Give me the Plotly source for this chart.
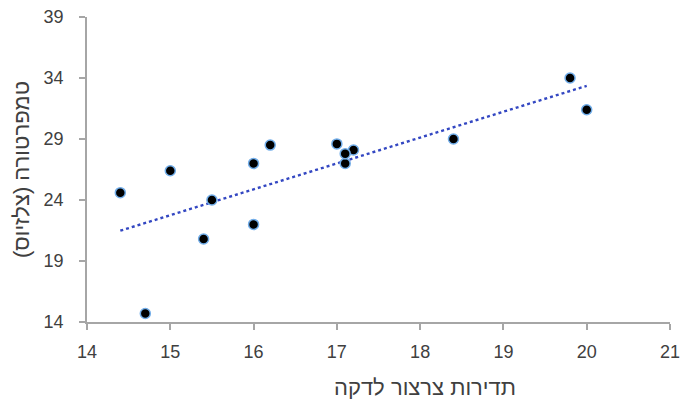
import numpy as np
import plotly.graph_objects as go

# chirps per minute vs temperature
chirp_rate = [20.0, 16.0, 19.8, 18.4, 17.1, 15.5, 14.7, 15.4, 16.2, 15.0, 17.2, 16.0, 17.0, 14.4, 17.1]
temperature_c = [31.4, 22.0, 34.0, 29.0, 27.0, 24.0, 14.7, 20.8, 28.5, 26.4, 28.1, 27.0, 28.6, 24.6, 27.8]

x_title = "תדירות צרצור לדקה"
y_title = "טמפרטורה (צלזיוס)"

# linear trend line across the data range
slope, intercept = np.polyfit(chirp_rate, temperature_c, 1)
trend_x = np.array([min(chirp_rate), max(chirp_rate)])
trend_y = slope * trend_x + intercept

fig = go.Figure()
fig.add_trace(go.Scatter(
    x=trend_x, y=trend_y, mode="lines",
    line=dict(color="#3347C2", width=2.4, dash="dot"),
    hoverinfo="skip", showlegend=False,
))
fig.add_trace(go.Scatter(
    x=chirp_rate, y=temperature_c, mode="markers",
    marker=dict(color="black", size=10, line=dict(color="#72AEEA", width=1.5)),
    showlegend=False,
))

family = "Liberation Sans, DejaVu Sans, sans-serif"
axis_font = dict(family=family, size=18, color="#404040")
title_font = dict(family=family, size=22, color="#404040")

common = dict(
    showgrid=False, zeroline=False, automargin=False,
    showline=True, linecolor="#A6A6A6", linewidth=1.5,
    ticks="outside", ticklen=6, tickcolor="#A6A6A6", tickwidth=1.5,
    tickfont=axis_font,
)

fig.update_layout(
    width=681, height=403,
    margin=dict(l=87, r=11, t=17, b=81),
    paper_bgcolor="white", plot_bgcolor="white",
    font=axis_font,
    xaxis=dict(range=[14, 21], dtick=1, tick0=14, ticklabelstandoff=7, **common),
    yaxis=dict(
        range=[14, 39], dtick=5, tick0=14, ticklabelstandoff=12,
        title=dict(text=y_title, font=title_font, standoff=8),
        **common,
    ),
    annotations=[
        dict(
            text=x_title, xref="paper", yref="paper",
            x=(425 - 87) / (670 - 87), y=-(387 - 322) / (322 - 17),
            xanchor="center", yanchor="middle", showarrow=False,
            font=title_font,
        )
    ],
)

fig.write_html("out.html")
